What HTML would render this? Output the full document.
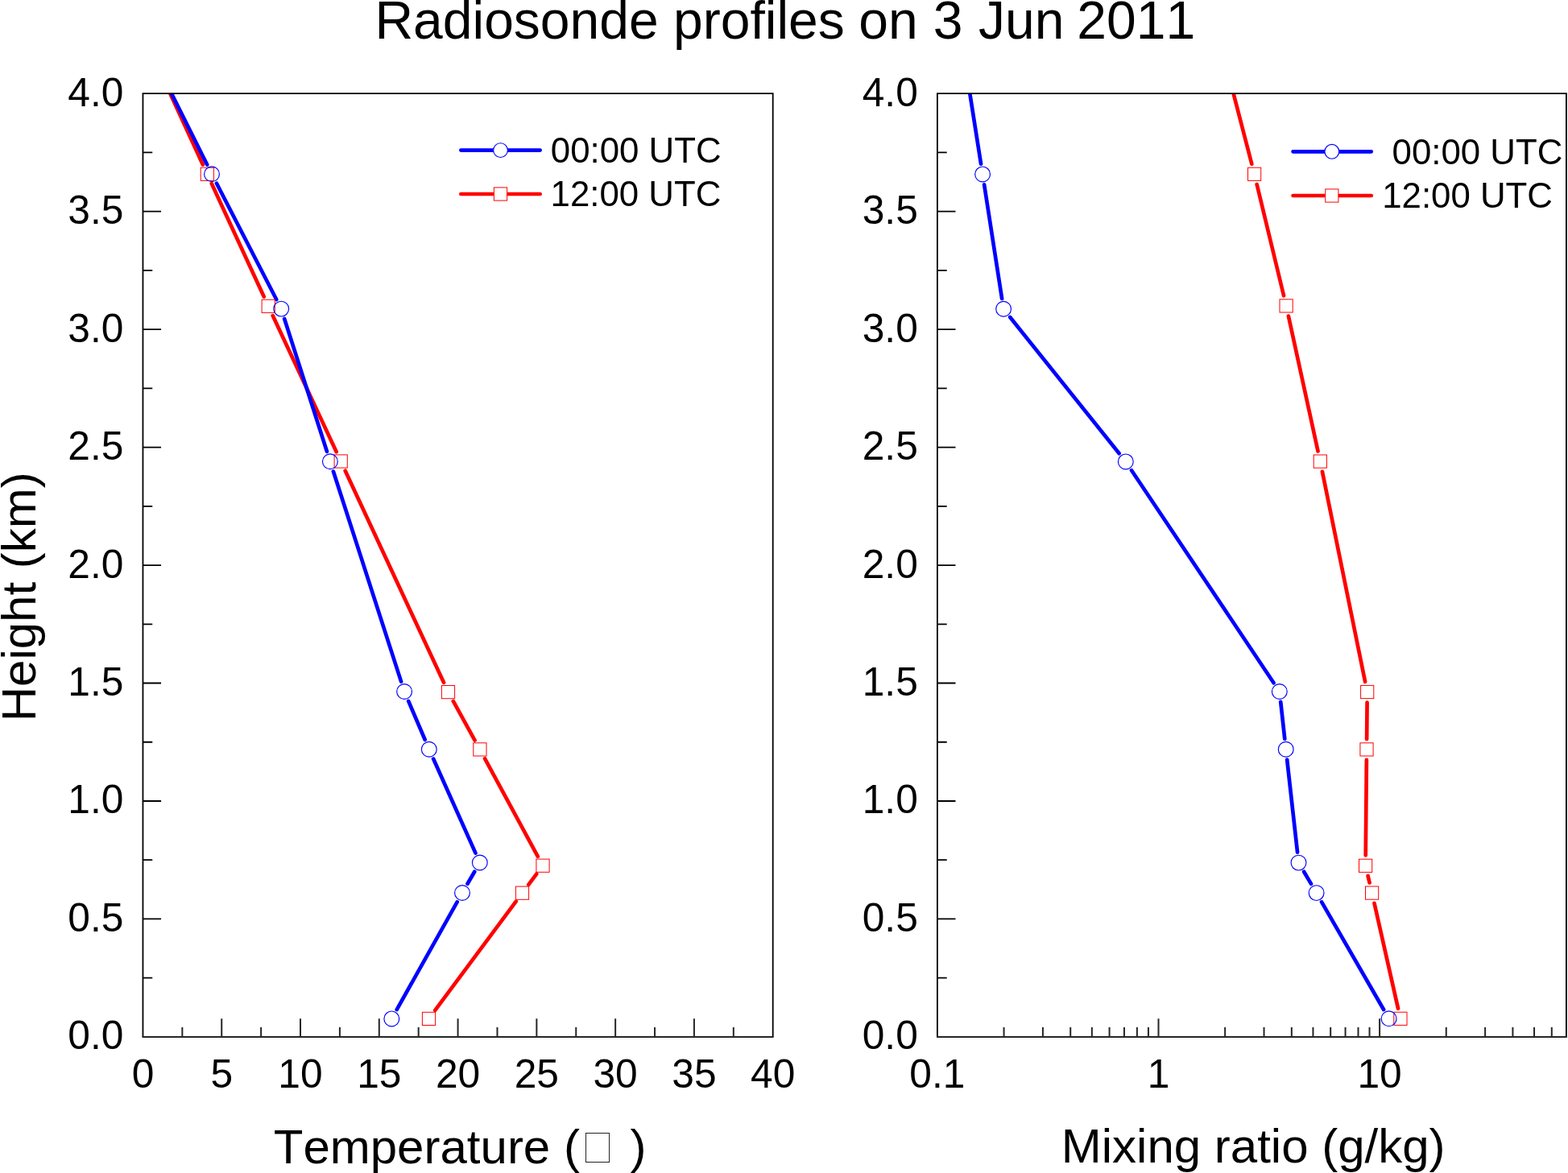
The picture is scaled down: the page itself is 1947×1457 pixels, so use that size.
<!DOCTYPE html>
<html><head><meta charset="utf-8"><title>Radiosonde profiles on 3 Jun 2011</title><style>html,body{margin:0;padding:0;background:#fff;overflow:hidden;}svg{display:block;font-kerning:none;}</style></head><body>
<svg width="1947" height="1457" viewBox="0 0 1947 1457" font-family='"Liberation Sans", Arial, sans-serif'>
<defs><clipPath id="cl"><rect x="177.45" y="116.2" width="782.25" height="1171.7"/></clipPath><clipPath id="cr"><rect x="1163.9" y="116.2" width="781" height="1171.7"/></clipPath></defs>
<rect width="1947" height="1457" fill="#fff"/>
<text y="48.4" font-size="66"><tspan x="465.4">Radiosonde</tspan> <tspan x="836.0">profiles</tspan> <tspan x="1066.3">on</tspan> <tspan x="1158.8">3</tspan> <tspan x="1215.0">Jun</tspan> <tspan x="1337.3">2011</tspan></text>
<path clip-path="url(#cl)" d="M207.12 107.11L251.87 204.49M262.76 228.1L327.74 368.5M338.7 392.08L417.7 561.22M428.68 584.79L551.02 847.81M562.79 870.98L589.61 919.52M602.09 942.33L667.81 1063.77M666.2 1085.6L656.3 1098.8M640.75 1119.64L540.25 1254.96" stroke="#ff0000" stroke-width="4.7" stroke-linecap="round" fill="none"/>
<path clip-path="url(#cl)" d="M208.53 107.26L257.19 204.57M268.95 227.76L343.25 372.04M353.16 395.98L405.94 560.82M413.89 585.57L498.11 846.63M507.22 870.95L527.68 918.75M538.11 942.57L590.49 1059.63M589.27 1082.74L580.53 1097.76M567.64 1120.34L492.66 1254.06" stroke="#0000ff" stroke-width="4.7" stroke-linecap="round" fill="none"/>
<rect x="249.2" y="208.2" width="16.2" height="16.2" fill="none" stroke="#ff0000" stroke-width="1.0"/>
<rect x="325.1" y="372.2" width="16.2" height="16.2" fill="none" stroke="#ff0000" stroke-width="1.0"/>
<rect x="415.1" y="564.9" width="16.2" height="16.2" fill="none" stroke="#ff0000" stroke-width="1.0"/>
<rect x="548.4" y="851.5" width="16.2" height="16.2" fill="none" stroke="#ff0000" stroke-width="1.0"/>
<rect x="587.8" y="922.8" width="16.2" height="16.2" fill="none" stroke="#ff0000" stroke-width="1.0"/>
<rect x="665.9" y="1067.1" width="16.2" height="16.2" fill="none" stroke="#ff0000" stroke-width="1.0"/>
<rect x="640.4" y="1101.1" width="16.2" height="16.2" fill="none" stroke="#ff0000" stroke-width="1.0"/>
<rect x="524.4" y="1257.3" width="16.2" height="16.2" fill="none" stroke="#ff0000" stroke-width="1.0"/>
<circle cx="263" cy="216.2" r="9.4" fill="none" stroke="#0000ff" stroke-width="1.15"/>
<circle cx="349.2" cy="383.6" r="9.4" fill="none" stroke="#0000ff" stroke-width="1.15"/>
<circle cx="409.9" cy="573.2" r="9.4" fill="none" stroke="#0000ff" stroke-width="1.15"/>
<circle cx="502.1" cy="859" r="9.4" fill="none" stroke="#0000ff" stroke-width="1.15"/>
<circle cx="532.8" cy="930.7" r="9.4" fill="none" stroke="#0000ff" stroke-width="1.15"/>
<circle cx="595.8" cy="1071.5" r="9.4" fill="none" stroke="#0000ff" stroke-width="1.15"/>
<circle cx="574" cy="1109" r="9.4" fill="none" stroke="#0000ff" stroke-width="1.15"/>
<circle cx="486.3" cy="1265.4" r="9.4" fill="none" stroke="#0000ff" stroke-width="1.15"/>
<path d="M176.55 116.2H960.6 M177.45 116.2V1287.9 M959.7 116.2V1287.9" stroke="#000" stroke-width="1.8" fill="none"/>
<path d="M176.55 1287.9H960.6" stroke="#262626" stroke-width="2" fill="none"/>
<path d="M177.45 1214.67H189.25M177.45 1141.44H200.05M177.45 1068.21H189.25M177.45 994.98H200.05M177.45 921.74H189.25M177.45 848.51H200.05M177.45 775.28H189.25M177.45 702.05H200.05M177.45 628.82H189.25M177.45 555.59H200.05M177.45 482.36H189.25M177.45 409.12H200.05M177.45 335.89H189.25M177.45 262.66H200.05M177.45 189.43H189.25" stroke="#000" stroke-width="1.8"/>
<text x="153.35" y="1303.4" text-anchor="end" font-size="49.7">0.0</text>
<text x="153.35" y="1156.94" text-anchor="end" font-size="49.7">0.5</text>
<text x="153.35" y="1010.48" text-anchor="end" font-size="49.7">1.0</text>
<text x="153.35" y="864.01" text-anchor="end" font-size="49.7">1.5</text>
<text x="153.35" y="717.55" text-anchor="end" font-size="49.7">2.0</text>
<text x="153.35" y="571.09" text-anchor="end" font-size="49.7">2.5</text>
<text x="153.35" y="424.62" text-anchor="end" font-size="49.7">3.0</text>
<text x="153.35" y="278.16" text-anchor="end" font-size="49.7">3.5</text>
<text x="153.35" y="131.7" text-anchor="end" font-size="49.7">4.0</text>
<path d="M226.34 1287.9V1276.1M275.23 1287.9V1265.3M324.12 1287.9V1276.1M373.01 1287.9V1265.3M421.9 1287.9V1276.1M470.79 1287.9V1265.3M519.68 1287.9V1276.1M568.58 1287.9V1265.3M617.47 1287.9V1276.1M666.36 1287.9V1265.3M715.25 1287.9V1276.1M764.14 1287.9V1265.3M813.03 1287.9V1276.1M861.92 1287.9V1265.3M910.81 1287.9V1276.1" stroke="#262626" stroke-width="2"/>
<text x="177.45" y="1351" text-anchor="middle" font-size="49.7">0</text>
<text x="275.23" y="1351" text-anchor="middle" font-size="49.7">5</text>
<text x="373.01" y="1351" text-anchor="middle" font-size="49.7">10</text>
<text x="470.79" y="1351" text-anchor="middle" font-size="49.7">15</text>
<text x="568.58" y="1351" text-anchor="middle" font-size="49.7">20</text>
<text x="666.36" y="1351" text-anchor="middle" font-size="49.7">25</text>
<text x="764.14" y="1351" text-anchor="middle" font-size="49.7">30</text>
<text x="861.92" y="1351" text-anchor="middle" font-size="49.7">35</text>
<text x="959.7" y="1351" text-anchor="middle" font-size="49.7">40</text>
<path clip-path="url(#cr)" d="M1529.09 106.52L1554.33 203.72M1560.65 228.94L1594.05 367.26M1599.87 392.6L1636.53 560.4M1641.9 585.84L1695.1 846.76M1697.57 872.5L1697.13 917.9M1696.87 943.9L1695.73 1062.3M1698.59 1087.95L1700.61 1096.45M1706.47 1121.78L1736.03 1252.62" stroke="#ff0000" stroke-width="4.7" stroke-linecap="round" fill="none"/>
<path clip-path="url(#cr)" d="M1202.74 106.32L1218.08 203.56M1222.1 229.25L1244.1 370.95M1254.22 393.95L1389.68 563.25M1405.03 584.21L1581.57 848.19M1590.22 871.92L1595.28 917.78M1598.15 943.62L1611.05 1058.68M1619.1 1082.8L1628 1097.9M1641.09 1120.36L1718.11 1254.04" stroke="#0000ff" stroke-width="4.7" stroke-linecap="round" fill="none"/>
<rect x="1549.5" y="208.2" width="16.2" height="16.2" fill="none" stroke="#ff0000" stroke-width="1.0"/>
<rect x="1589" y="371.8" width="16.2" height="16.2" fill="none" stroke="#ff0000" stroke-width="1.0"/>
<rect x="1631.2" y="565" width="16.2" height="16.2" fill="none" stroke="#ff0000" stroke-width="1.0"/>
<rect x="1689.6" y="851.4" width="16.2" height="16.2" fill="none" stroke="#ff0000" stroke-width="1.0"/>
<rect x="1688.9" y="922.8" width="16.2" height="16.2" fill="none" stroke="#ff0000" stroke-width="1.0"/>
<rect x="1687.5" y="1067.2" width="16.2" height="16.2" fill="none" stroke="#ff0000" stroke-width="1.0"/>
<rect x="1695.5" y="1101" width="16.2" height="16.2" fill="none" stroke="#ff0000" stroke-width="1.0"/>
<rect x="1730.8" y="1257.2" width="16.2" height="16.2" fill="none" stroke="#ff0000" stroke-width="1.0"/>
<circle cx="1220.1" cy="216.4" r="9.4" fill="none" stroke="#0000ff" stroke-width="1.15"/>
<circle cx="1246.1" cy="383.8" r="9.4" fill="none" stroke="#0000ff" stroke-width="1.15"/>
<circle cx="1397.8" cy="573.4" r="9.4" fill="none" stroke="#0000ff" stroke-width="1.15"/>
<circle cx="1588.8" cy="859" r="9.4" fill="none" stroke="#0000ff" stroke-width="1.15"/>
<circle cx="1596.7" cy="930.7" r="9.4" fill="none" stroke="#0000ff" stroke-width="1.15"/>
<circle cx="1612.5" cy="1071.6" r="9.4" fill="none" stroke="#0000ff" stroke-width="1.15"/>
<circle cx="1634.6" cy="1109.1" r="9.4" fill="none" stroke="#0000ff" stroke-width="1.15"/>
<circle cx="1724.6" cy="1265.3" r="9.4" fill="none" stroke="#0000ff" stroke-width="1.15"/>
<path d="M1163 116.2H1945.8 M1163.9 116.2V1287.9 M1944.9 116.2V1287.9" stroke="#000" stroke-width="1.8" fill="none"/>
<path d="M1163 1287.9H1945.8" stroke="#262626" stroke-width="2" fill="none"/>
<path d="M1163.9 1214.67H1175.7M1163.9 1141.44H1186.5M1163.9 1068.21H1175.7M1163.9 994.98H1186.5M1163.9 921.74H1175.7M1163.9 848.51H1186.5M1163.9 775.28H1175.7M1163.9 702.05H1186.5M1163.9 628.82H1175.7M1163.9 555.59H1186.5M1163.9 482.36H1175.7M1163.9 409.12H1186.5M1163.9 335.89H1175.7M1163.9 262.66H1186.5M1163.9 189.43H1175.7" stroke="#000" stroke-width="1.8"/>
<text x="1139.8" y="1303.4" text-anchor="end" font-size="49.7">0.0</text>
<text x="1139.8" y="1156.94" text-anchor="end" font-size="49.7">0.5</text>
<text x="1139.8" y="1010.48" text-anchor="end" font-size="49.7">1.0</text>
<text x="1139.8" y="864.01" text-anchor="end" font-size="49.7">1.5</text>
<text x="1139.8" y="717.55" text-anchor="end" font-size="49.7">2.0</text>
<text x="1139.8" y="571.09" text-anchor="end" font-size="49.7">2.5</text>
<text x="1139.8" y="424.62" text-anchor="end" font-size="49.7">3.0</text>
<text x="1139.8" y="278.16" text-anchor="end" font-size="49.7">3.5</text>
<text x="1139.8" y="131.7" text-anchor="end" font-size="49.7">4.0</text>
<path d="M1246.56 1287.9V1276.1M1294.92 1287.9V1276.1M1329.23 1287.9V1276.1M1355.84 1287.9V1276.1M1377.58 1287.9V1276.1M1395.96 1287.9V1276.1M1411.89 1287.9V1276.1M1425.93 1287.9V1276.1M1438.5 1287.9V1265.3M1521.16 1287.9V1276.1M1569.52 1287.9V1276.1M1603.83 1287.9V1276.1M1630.44 1287.9V1276.1M1652.18 1287.9V1276.1M1670.56 1287.9V1276.1M1686.49 1287.9V1276.1M1700.53 1287.9V1276.1M1713.1 1287.9V1265.3M1795.76 1287.9V1276.1M1844.12 1287.9V1276.1M1878.43 1287.9V1276.1M1905.04 1287.9V1276.1M1926.78 1287.9V1276.1" stroke="#262626" stroke-width="2"/>
<text x="1163.9" y="1351" text-anchor="middle" font-size="49.7">0.1</text>
<text x="1438.5" y="1351" text-anchor="middle" font-size="49.7">1</text>
<text x="1713.1" y="1351" text-anchor="middle" font-size="49.7">10</text>
<path d="M572.35 186.6H612.32 M630.68 186.6H670.65" stroke="#0000ff" stroke-width="4.7" stroke-linecap="round"/>
<circle cx="621.5" cy="186.6" r="8.9" fill="#fff" stroke="#0000ff" stroke-width="1.15"/>
<text x="683.8" y="201.8" font-size="43.8">00:00 UTC</text>
<path d="M572.35 241H613.2 M629.8 241H670.65" stroke="#ff0000" stroke-width="4.7" stroke-linecap="round"/>
<rect x="613.4" y="232.9" width="16.2" height="16.2" fill="#fff" stroke="#ff0000" stroke-width="1.0"/>
<text x="683.6" y="256.3" font-size="43.8">12:00 UTC</text>
<path d="M1605.55 188.3H1644.62 M1662.97 188.3H1702.75" stroke="#0000ff" stroke-width="4.7" stroke-linecap="round"/>
<circle cx="1653.8" cy="188.3" r="8.9" fill="#fff" stroke="#0000ff" stroke-width="1.15"/>
<text x="1728.6" y="204.1" font-size="43.8">00:00 UTC</text>
<path d="M1605.55 243H1645.5 M1662.1 243H1702.75" stroke="#ff0000" stroke-width="4.7" stroke-linecap="round"/>
<rect x="1645.7" y="234.9" width="16.2" height="16.2" fill="#fff" stroke="#ff0000" stroke-width="1.0"/>
<text x="1716.2" y="258.2" font-size="43.8">12:00 UTC</text>
<text x="339.75" y="1444.5" font-size="60">Temperature (</text>
<rect x="727.5" y="1407.5" width="29" height="36" fill="none" stroke="#222" stroke-width="1"/>
<text x="782.4" y="1444.5" font-size="60">)</text>
<text x="1317.8" y="1444.1" font-size="60">Mixing ratio (g/kg)</text>
<text transform="translate(43.8 896.3) rotate(-90)" font-size="60">Height (km)</text>
</svg>
</body></html>
